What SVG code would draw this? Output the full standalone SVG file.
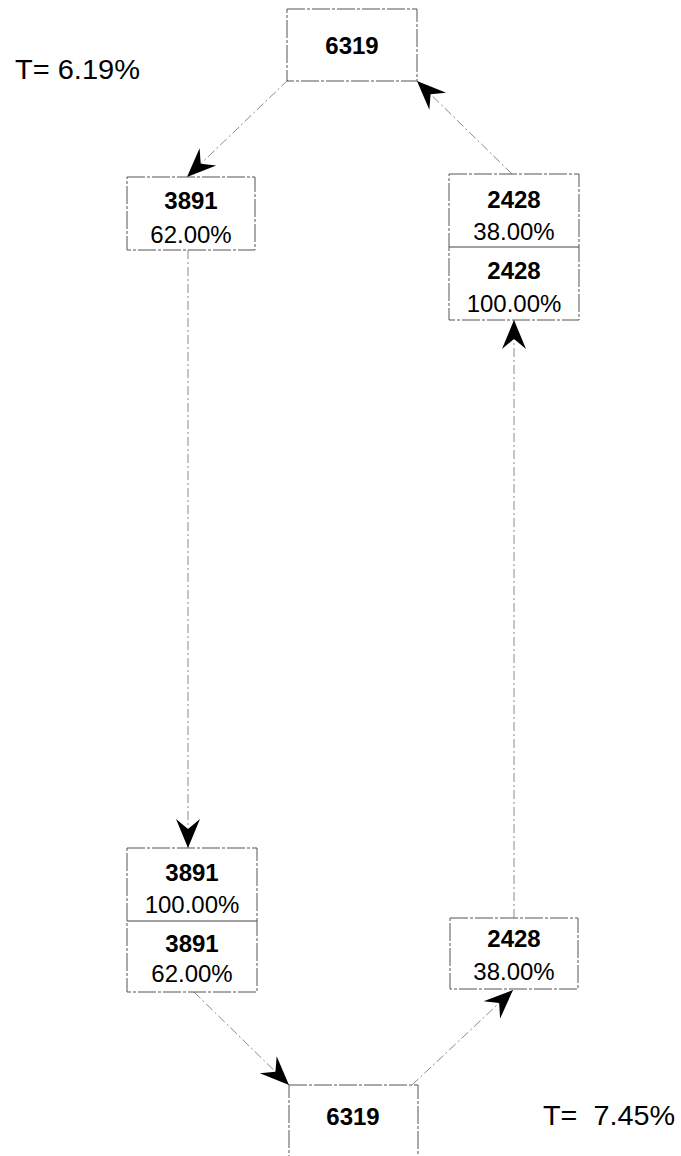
<svg xmlns="http://www.w3.org/2000/svg" width="681" height="1156" viewBox="0 0 681 1156">
<style>
.box{fill:none;stroke:#555;stroke-width:1;stroke-dasharray:18 2 3 2}
.div{stroke:#444;stroke-width:1}
.num{font-family:"Liberation Sans",Arial,sans-serif;font-weight:bold;font-size:24px;fill:#000;text-anchor:middle}
.pct{font-family:"Liberation Sans",Arial,sans-serif;font-size:24px;fill:#000;text-anchor:middle}
.lbl{font-family:"Liberation Sans",Arial,sans-serif;font-size:27px;fill:#000}
.con{fill:none;stroke:#8a8a8a;stroke-width:1;stroke-dasharray:9 3 2 3}
</style>
<defs>
<marker id="arr" markerUnits="userSpaceOnUse" markerWidth="34" markerHeight="34" viewBox="-32 -16 34 32" refX="0" refY="0" orient="auto">
<path d="M0,0 L-29,-12 L-19,0 L-29,12 Z" fill="#000"/>
</marker>
</defs>
<g id="connectors">
<line class="con" x1="288" y1="80" x2="187" y2="177" marker-end="url(#arr)"/>
<line class="con" x1="188" y1="250" x2="188" y2="848" marker-end="url(#arr)"/>
<line class="con" x1="194" y1="992" x2="289" y2="1085" marker-end="url(#arr)"/>
<line class="con" x1="412" y1="1085" x2="513" y2="990" marker-end="url(#arr)"/>
<line class="con" x1="514" y1="918" x2="514" y2="320" marker-end="url(#arr)"/>
<line class="con" x1="512" y1="174" x2="417" y2="81" marker-end="url(#arr)"/>
</g>
<g id="top6319">
<rect class="box" x="287" y="9" width="130" height="72"/>
<text class="num" x="352" y="54">6319</text>
</g>
<g id="left3891a">
<rect class="box" x="127" y="177" width="128" height="73"/>
<text class="num" x="191" y="209">3891</text>
<text class="pct" x="191" y="243">62.00%</text>
</g>
<g id="right2428a">
<rect class="box" x="449" y="174" width="130" height="146"/>
<line class="div" x1="449" y1="247" x2="579" y2="247"/>
<text class="num" x="514" y="208">2428</text>
<text class="pct" x="514" y="240">38.00%</text>
<text class="num" x="514" y="279">2428</text>
<text class="pct" x="514" y="312">100.00%</text>
</g>
<g id="left3891b">
<rect class="box" x="127" y="848" width="130" height="144"/>
<line class="div" x1="127" y1="921" x2="257" y2="921"/>
<text class="num" x="192" y="881">3891</text>
<text class="pct" x="192" y="913">100.00%</text>
<text class="num" x="192" y="952">3891</text>
<text class="pct" x="192" y="982">62.00%</text>
</g>
<g id="right2428b">
<rect class="box" x="450" y="918" width="128" height="71"/>
<text class="num" x="514" y="947">2428</text>
<text class="pct" x="514" y="980">38.00%</text>
</g>
<g id="bottom6319">
<rect class="box" x="289" y="1085" width="129" height="90"/>
<text class="num" x="353" y="1125">6319</text>
</g>
<text id="t1" class="lbl" x="15" y="79" textLength="125" lengthAdjust="spacingAndGlyphs">T= 6.19%</text>
<text id="t2" class="lbl" x="543" y="1125" textLength="132" lengthAdjust="spacingAndGlyphs" xml:space="preserve">T=  7.45%</text>
</svg>
